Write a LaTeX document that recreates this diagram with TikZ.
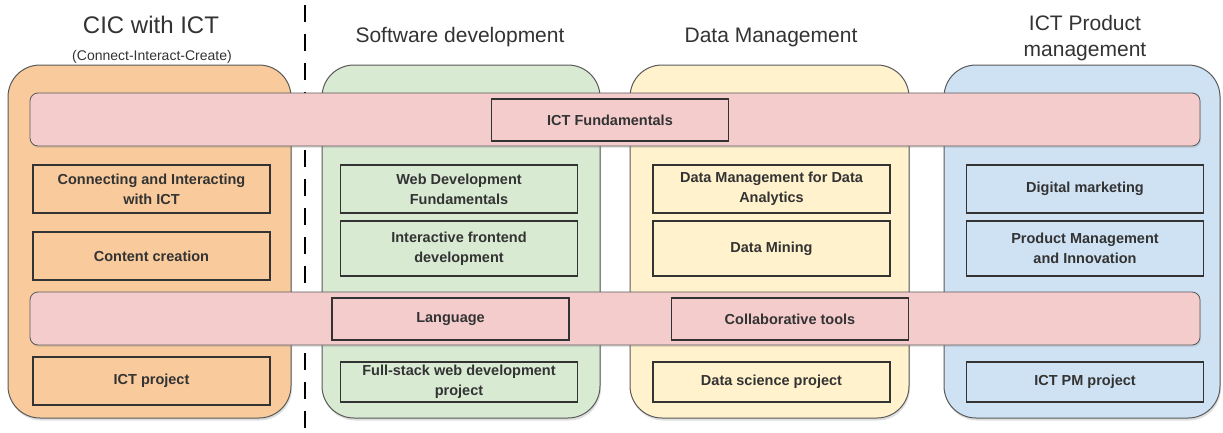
\documentclass[tikz,border=0pt]{standalone}
\usepackage{fontspec}
\setmainfont{Liberation Sans}
\usetikzlibrary{shadows}
\definecolor{corange}{HTML}{F9CB9C}
\definecolor{cgreen}{HTML}{D9EAD3}
\definecolor{cyellow}{HTML}{FFF2CC}
\definecolor{cblue}{HTML}{CFE2F3}
\definecolor{cpink}{HTML}{F4CCCC}
\definecolor{cline}{HTML}{595959}
\definecolor{ctext}{HTML}{333333}
\tikzset{
  colbox/.style={draw=cline, line width=1pt, rounded corners=32pt, inner sep=0pt,
    drop shadow={opacity=0.25, shadow xshift=1pt, shadow yshift=-2.5pt}},
  band/.style={draw=cline, line width=0.8pt, rounded corners=8pt, fill=cpink, inner sep=0pt,
    minimum width=1170pt, minimum height=53pt,
    drop shadow={opacity=0.2, shadow xshift=1pt, shadow yshift=-2pt}},
  course/.style={draw=black!80, line width=1.8pt, inner sep=2pt, align=center,
    minimum width=237pt, font=\fontsize{14.5}{20}\selectfont\bfseries, text=ctext},
  title/.style={align=center, text=ctext, font=\fontsize{21}{25}\selectfont},
}
\begin{document}
\begin{tikzpicture}[x=1pt,y=-1pt]
\useasboundingbox (0,0) rectangle (1223,432);
% columns
\node[colbox, fill=corange, minimum width=283pt, minimum height=353pt] (colA) at (149.5,241.5) {};
\node[colbox, fill=cgreen, minimum width=278pt, minimum height=353pt] (colB) at (461,241.5) {};
\node[colbox, fill=cyellow, minimum width=279pt, minimum height=353pt] (colC) at (769.5,241.5) {};
\node[colbox, fill=cblue, minimum width=276pt, minimum height=353pt] (colD) at (1082,241.5) {};
% titles
\node[title, font=\fontsize{24}{28}\selectfont] (tA) at (151,25) {CIC with ICT};
\node[text=ctext, font=\fontsize{14}{16}\selectfont] (tAs) at (152,57) {(Connect-Interact-Create)};
\node[title] (tB) at (460,37) {Software development};
\node[title] (tC) at (771,37) {Data Management};
\node[title, font=\fontsize{21}{26}\selectfont] (tD) at (1085,38) {ICT Product\\management};
% dashed divider
\coordinate (dtop) at (305,5);
\coordinate (dbot) at (305,432);
\draw[line width=2.6pt, dash pattern=on 17pt off 12pt] (dtop) -- (dbot);
% bands
\node[band] (band1) at (615,119.5) {};
\node[band] (band2) at (615,318.5) {};
\node[course, fill=cpink, minimum height=42pt] (fund) at (610,120) {ICT Fundamentals};
\node[course, fill=cpink, minimum height=42pt] (lang) at (450.5,319) {Language};
\node[course, fill=cpink, minimum height=42pt] (collab) at (790,319) {Collaborative tools};
% column A
\node[course, fill=corange, minimum height=48pt] (a1) at (151.5,189) {Connecting and Interacting\\with ICT};
\node[course, fill=corange, minimum height=48pt] (a2) at (151.5,256) {Content creation};
\node[course, fill=corange, minimum height=48pt] (a3) at (151.5,381) {ICT project};
% column B
\node[course, fill=cgreen, minimum height=48pt] (b1) at (459,189) {Web Development\\Fundamentals};
\node[course, fill=cgreen, minimum height=55pt] (b2) at (459,248.5) {Interactive frontend\\development};
\node[course, fill=cgreen, minimum height=40pt] (b3) at (459,382) {Full-stack web development\\project};
% column C
\node[course, fill=cyellow, minimum height=48pt] (c1) at (771.5,189) {Data Management for Data\\Analytics};
\node[course, fill=cyellow, minimum height=55pt] (c2) at (771.5,248.5) {Data Mining};
\node[course, fill=cyellow, minimum height=40pt] (c3) at (771.5,382) {Data science project};
% column D
\node[course, fill=cblue, minimum height=48pt] (d1) at (1085,189) {Digital marketing};
\node[course, fill=cblue, minimum height=55pt] (d2) at (1085,248.5) {Product Management\\and Innovation};
\node[course, fill=cblue, minimum height=40pt] (d3) at (1085,382) {ICT PM project};
\end{tikzpicture}
\end{document}
